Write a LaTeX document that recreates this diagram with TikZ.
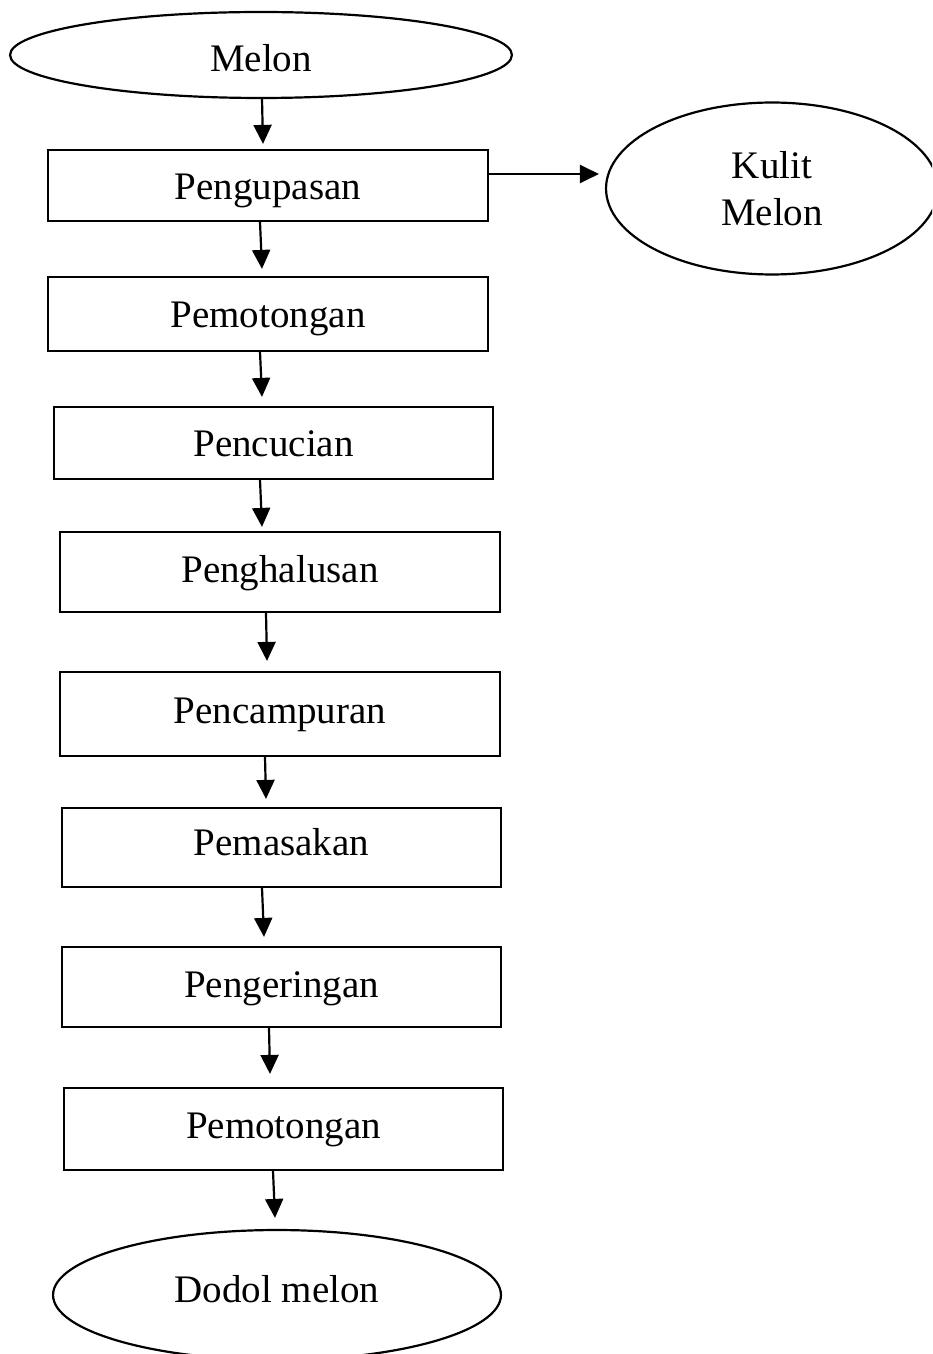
\documentclass[tikz,border=0pt]{standalone}
\usepackage{fontspec}
\setmainfont{Liberation Serif}
\usetikzlibrary{shapes.geometric,arrows.meta,calc}
\begin{document}
\begin{tikzpicture}[x=0.02cm,y=-0.02cm,
  every node/.style={font=\fontsize{22.2}{26.7}\selectfont, line width=1.25pt, inner sep=0pt},
  % baseline sits half the given height below the node centre
  drop/.style={text height=#1, text depth=0pt},
  stepbox/.style={draw, rectangle, minimum width=8.8cm},
  term/.style={draw, ellipse},
  arr/.style={line width=1.25pt, -{Triangle[length=0.38cm,width=0.36cm]}}]
\useasboundingbox (0,0) rectangle (932,1354);
\clip (0,0) rectangle (932,1354);

% terminals
\node[term, drop=0.68cm, minimum width=10.04cm, minimum height=1.72cm] (melon) at (261,55) {Melon};
\node[term, minimum width=6.64cm, minimum height=3.44cm, align=center] (kulit) at (772,188.5) {Kulit\\Melon};
\node[term, drop=0.28cm, minimum width=8.96cm, minimum height=2.6cm] (dodol) at (277,1295) {Dodol melon};

% process steps
\node[stepbox, drop=0.58cm, minimum height=1.42cm] (s1) at (268,185.5) {Pengupasan};
\node[stepbox, drop=0.56cm, minimum height=1.48cm] (s2) at (268,314) {Pemotongan};
\node[stepbox, drop=0.56cm, minimum width=8.78cm, minimum height=1.44cm] (s3) at (273.5,443) {Pencucian};
\node[stepbox, drop=0.40cm, minimum height=1.6cm] (s4) at (280,572) {Penghalusan};
\node[stepbox, drop=0.36cm, minimum height=1.68cm] (s5) at (280,714) {Pencampuran};
\node[stepbox, drop=0.30cm, minimum width=8.78cm, minimum height=1.58cm] (s6) at (281.5,847.5) {Pemasakan};
\node[stepbox, drop=0.40cm, minimum width=8.78cm, minimum height=1.6cm] (s7) at (281.5,987) {Pengeringan};
\node[stepbox, drop=0.36cm, minimum width=8.78cm, minimum height=1.64cm] (s8) at (283.5,1129) {Pemotongan};

% flow
\draw[arr] ($(melon.south)+(1,0)$) -- ($(s1.north)+(-5,-5)$);
\draw[arr] ($(s1.east)+(0,-11.5)$) -- ($(kulit.west)+(-6,-14.5)$);
\draw[arr] ($(s1.south)+(-8,0)$) -- ($(s2.north)+(-6,-7)$);
\draw[arr] ($(s2.south)+(-8,0)$) -- ($(s3.north)+(-11.5,-9)$);
\draw[arr] ($(s3.south)+(-13.5,0)$) -- ($(s4.north)+(-18,-4)$);
\draw[arr] ($(s4.south)+(-14,0)$) -- ($(s5.north)+(-13,-10)$);
\draw[arr] ($(s5.south)+(-15,0)$) -- ($(s6.north)+(-15.5,-8)$);
\draw[arr] ($(s6.south)+(-19.5,0)$) -- ($(s7.north)+(-17.5,-9)$);
\draw[arr] ($(s7.south)+(-12.5,0)$) -- ($(s8.north)+(-13.5,-13)$);
\draw[arr] ($(s8.south)+(-10.5,0)$) -- ($(dodol.north)+(-2,-11)$);
\end{tikzpicture}
\end{document}
